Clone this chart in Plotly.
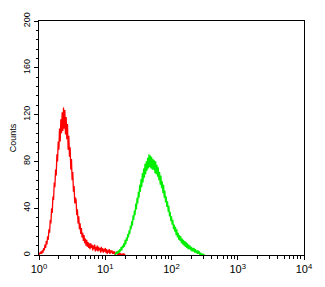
import plotly.graph_objects as go
import numpy as np

# log10 channel grid (bin centres) for each histogram
red_log_start, red_log_step = 0.00, 0.01
green_log_start, green_log_step = 1.15, 0.01

red_counts = [
    0, 2, 1, 3, 1, 4, 2, 6, 4, 9,
    6, 12, 9, 16, 13, 22, 19, 30, 27, 40,
    36, 50, 47, 62, 58, 73, 68, 86, 80, 97,
    90, 108, 97, 116, 104, 122, 106, 126, 108, 124,
    103, 118, 99, 112, 90, 102, 84, 92, 73, 82,
    64, 71, 54, 59, 44, 49, 47, 34, 39, 27,
    33, 22, 27, 18, 23, 15, 19, 12, 17, 10,
    14, 8, 13, 7, 11, 6, 10, 5, 10, 6,
    9, 4, 8, 5, 9, 3, 7, 4, 8, 3,
    7, 4, 6, 2, 7, 3, 6, 2, 5, 3,
    6, 2, 5, 1, 4, 2, 5, 1, 4, 2,
    4, 1, 3, 1, 3, 0, 2, 1, 3, 0,
    2, 0, 2, 0, 1, 0, 1, 0, 1, 0,
    0,
]

green_counts = [
    0, 2, 1, 3, 1, 4, 2, 5, 3, 7,
    4, 8, 6, 10, 7, 13, 9, 15, 12, 18,
    15, 21, 18, 25, 22, 29, 25, 34, 30, 38,
    34, 44, 39, 49, 44, 54, 49, 60, 54, 65,
    58, 70, 62, 74, 66, 78, 69, 80, 72, 83,
    74, 86, 75, 85, 74, 84, 73, 82, 73, 81,
    70, 80, 69, 77, 67, 75, 64, 71, 60, 68,
    57, 63, 53, 60, 49, 55, 45, 50, 41, 46,
    37, 42, 33, 37, 29, 33, 26, 30, 22, 26,
    20, 24, 17, 22, 15, 19, 13, 17, 12, 16,
    10, 14, 9, 13, 8, 12, 7, 11, 6, 10,
    5, 9, 5, 8, 4, 7, 3, 6, 3, 6,
    2, 5, 2, 4, 1, 4, 1, 3, 0, 2,
    0, 1, 0, 1, 0, 0,
]

x_tick_vals = [1, 10, 100, 1000, 10000]
x_tick_text = ["10<sup>0</sup>", "10<sup>1</sup>", "10<sup>2</sup>", "10<sup>3</sup>", "10<sup>4</sup>"]
x_minor_vals = [m * 10 ** d for d in range(4) for m in range(2, 10)]
y_tick_vals = [0, 40, 80, 120, 160, 200]
y_title = "Counts"

red_x = 10 ** (red_log_start + red_log_step * np.arange(len(red_counts)))
green_x = 10 ** (green_log_start + green_log_step * np.arange(len(green_counts)))

fig = go.Figure()
fig.add_trace(go.Scatter(x=red_x, y=red_counts, mode="lines",
                         line=dict(color="#ff0000", width=1.3), showlegend=False))
fig.add_trace(go.Scatter(x=green_x, y=green_counts, mode="lines",
                         line=dict(color="#00ee00", width=1.3), showlegend=False))

font = dict(family="Liberation Sans, Arial, sans-serif", size=10, color="#000")
fig.update_layout(
    width=325, height=287,
    margin=dict(l=39, r=19, t=17, b=31),
    paper_bgcolor="white", plot_bgcolor="white",
    font=font,
    xaxis=dict(type="log", range=[0, 4], tickvals=x_tick_vals, ticktext=x_tick_text,
               ticks="outside", ticklen=4, tickwidth=1, tickcolor="#000",
               showline=True, linecolor="#000", linewidth=1, mirror=True,
               showgrid=False, zeroline=False, tickfont=dict(size=11),
               minor=dict(tickvals=x_minor_vals, ticks="outside", ticklen=3,
                          tickcolor="#000", showgrid=False)),
    yaxis=dict(range=[0, 200], tickvals=y_tick_vals, tickangle=-90,
               ticks="outside", ticklen=4, tickwidth=1, tickcolor="#000",
               showline=True, linecolor="#000", linewidth=1, mirror=True,
               showgrid=False, zeroline=False, tickfont=dict(size=9),
               minor=dict(dtick=8, ticks="outside", ticklen=2, tickcolor="#000",
                          showgrid=False),
               title=dict(text=y_title, font=dict(size=9), standoff=4)),
)

fig.write_html("out.html")
